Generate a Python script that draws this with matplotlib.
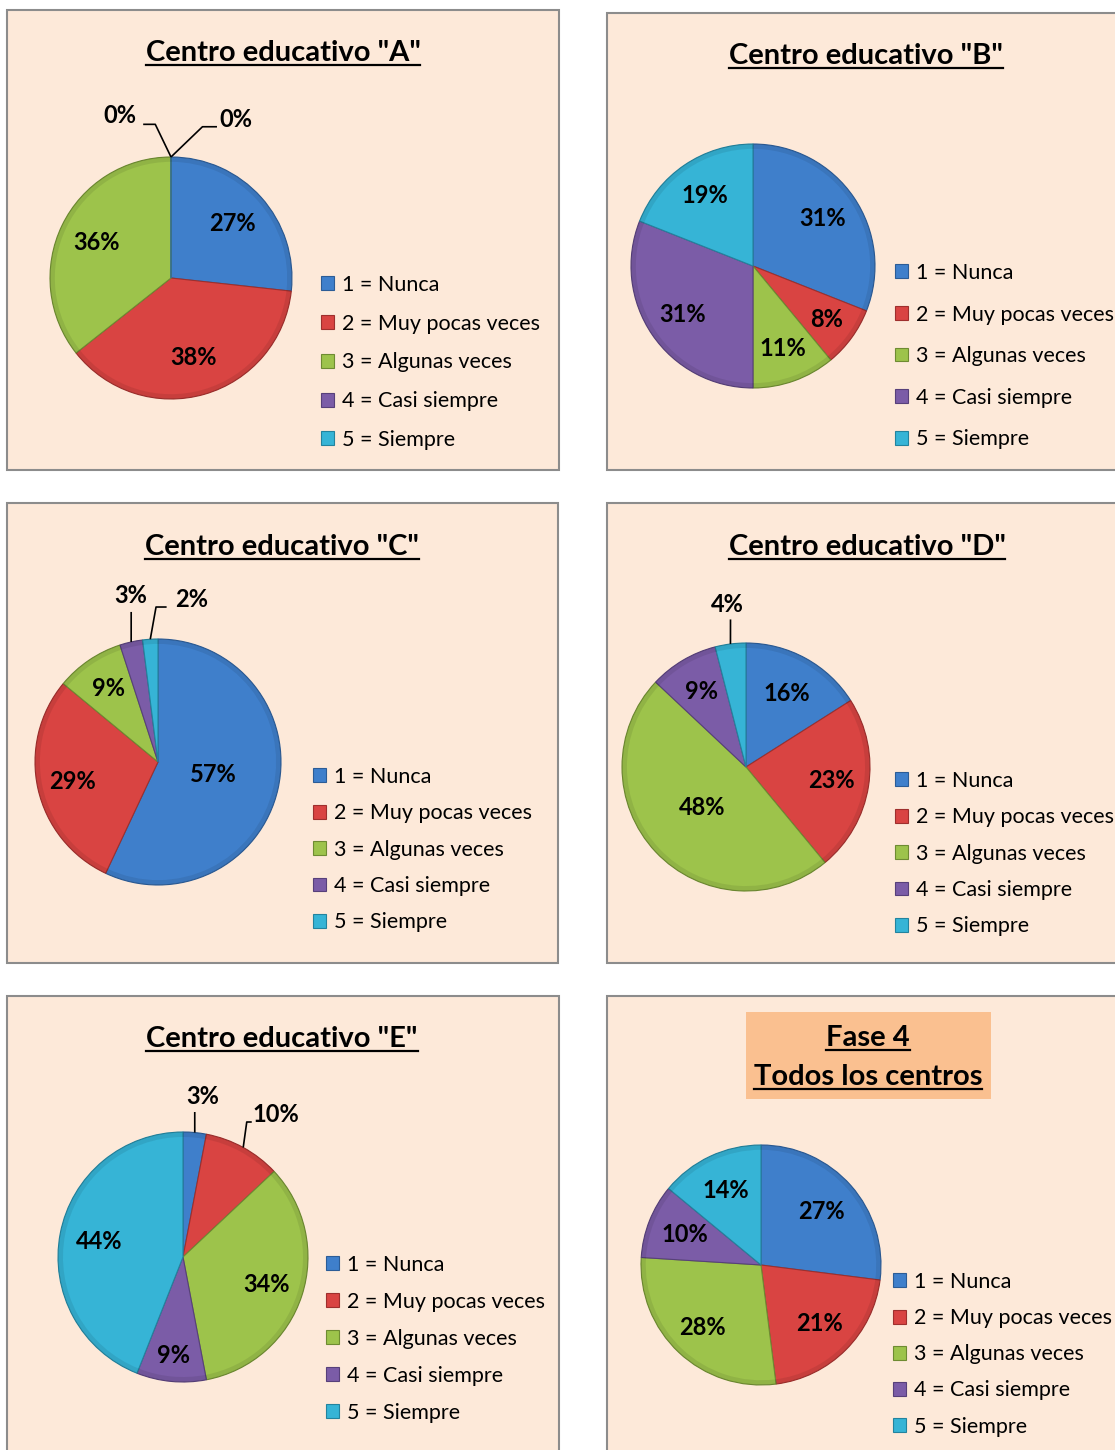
import numpy as np
import matplotlib
matplotlib.use("Agg")
import matplotlib.pyplot as plt
from matplotlib.patches import Rectangle
from matplotlib.lines import Line2D

plt.rcParams['font.family'] = ['Lato', 'DejaVu Sans']

# --- data ---
categorias = ["1 = Nunca", "2 = Muy pocas veces", "3 = Algunas veces",
              "4 = Casi siempre", "5 = Siempre"]
centro_a = [27, 38, 36, 0, 0]
centro_b = [31, 8, 11, 31, 19]
centro_c = [57, 29, 9, 3, 2]
centro_d = [16, 23, 48, 9, 4]
centro_e = [3, 10, 34, 9, 44]
todos = [27, 21, 28, 10, 14]

colores = ["#3F7FCB", "#D94442", "#9DC34B", "#7B5CA7", "#36B4D6"]
bordes = ["#2C5C96", "#9E2F2D", "#6E8B32", "#57407A", "#23839E"]

W, H = 1115, 1450
fig = plt.figure(figsize=(W / 100, H / 100), dpi=100)
fig.patch.set_facecolor("white")


def fx(x):
    return x / W


def fy(y):
    return 1 - y / H


def panel(x0, y0, x1, y1):
    fig.patches.append(Rectangle((fx(x0), fy(y1)), fx(x1 - x0), (y1 - y0) / H,
                                 transform=fig.transFigure, facecolor="#FDE9D9",
                                 edgecolor="#8C8C8C", linewidth=1.5, zorder=-2))


titulos = []


def titulo(texto, x, y, size=21):
    t = fig.text(fx(x), fy(y), texto, ha="center", va="baseline",
                 fontsize=size, fontweight="bold", color="black")
    titulos.append((t, y))


def pie(valores, cx, cy, r, dist, fuera, leg_xy, espacio):
    ax = fig.add_axes([fx(cx - r), fy(cy + r), 2 * r / W, 2 * r / H])
    ax.patch.set_visible(False)
    wedges, _ = ax.pie(valores, colors=colores, startangle=90, counterclock=False,
                       radius=1, wedgeprops=dict(linewidth=0.8))
    for w, e in zip(wedges, bordes):
        w.set_edgecolor(e)
    # leve efecto de bisel en el borde
    ax.pie(valores, colors=["black"] * 5, startangle=90, counterclock=False,
           radius=1, wedgeprops=dict(width=0.04, linewidth=0, alpha=0.08))
    ax.set_xlim(-1, 1)
    ax.set_ylim(-1, 1)
    ax.axis("off")
    for i, (w, v) in enumerate(zip(wedges, valores)):
        if i in fuera:
            continue
        ang = np.deg2rad((w.theta1 + w.theta2) / 2)
        d = dist[i]
        ax.text(d * np.cos(ang), d * np.sin(ang), f"{v}%", ha="center", va="center",
                fontsize=17, fontweight="bold")
    for i, (tx, ty, path) in fuera.items():
        w = wedges[i]
        ang = np.deg2rad((w.theta1 + w.theta2) / 2)
        xs = [np.cos(ang)] + [p[0] for p in path]
        ys = [np.sin(ang)] + [p[1] for p in path]
        ax.plot(xs, ys, color="black", lw=1.2, clip_on=False, solid_capstyle="butt")
        ax.text(tx, ty, f"{valores[i]}%", ha="center", va="center",
                fontsize=17, fontweight="bold", clip_on=False)
    lx, ly = leg_xy
    ax.legend(wedges, categorias, loc="upper left", bbox_to_anchor=(fx(lx), fy(ly)),
              bbox_transform=fig.transFigure, frameon=False, fontsize=15.5,
              handlelength=0.62, handleheight=0.62, handletextpad=0.35,
              labelspacing=espacio, borderpad=0, borderaxespad=0)
    return ax


# panels
panel(7, 10, 559, 470)
panel(607, 13, 1125, 470)
panel(7, 503, 558, 963)
panel(607, 503, 1125, 963)
panel(7, 996, 559, 1460)
panel(607, 996, 1125, 1460)

titulo('Centro educativo "A"', 283, 61)
titulo('Centro educativo "B"', 866, 64)
titulo('Centro educativo "C"', 282, 555)
titulo('Centro educativo "D"', 867, 555)
titulo('Centro educativo "E"', 282, 1047)
fig.patches.append(Rectangle((fx(746), fy(1099)), fx(991 - 746), (1099 - 1012) / H,
                             transform=fig.transFigure, facecolor="#FAC090",
                             edgecolor="none", zorder=-1))
titulo("Fase 4", 868, 1046)
titulo("Todos los centros", 868, 1085)

pie(centro_a, 171, 278, 121, [0.68, 0.68, 0.68, 0.7, 0.7],
    {3: (-0.42, 1.34, [(-0.13, 1.27), (-0.23, 1.27)]),
     4: (0.54, 1.31, [(0.26, 1.25), (0.38, 1.25)])},
    (321, 275), 0.87)
pie(centro_b, 753, 266, 122, [0.69, 0.75, 0.72, 0.70, 0.70], {}, (895, 263), 1.0)
pie(centro_c, 158, 762, 123, [0.46, 0.71, 0.72, 0.7, 0.7],
    {3: (-0.22, 1.35, [(-0.218, 1.22)]),
     4: (0.27, 1.32, [(-0.016, 1.26), (0.07, 1.26)])},
    (313, 767), 0.76)
pie(centro_d, 746, 767, 124, [0.68, 0.70, 0.48, 0.71, 0.7],
    {4: (-0.15, 1.31, [(-0.125, 1.19)])},
    (895, 771), 0.76)
pie(centro_e, 183, 1257, 125, [0.7, 0.7, 0.70, 0.79, 0.68],
    {0: (0.16, 1.28, [(0.094, 1.16)]),
     1: (0.74, 1.14, [(0.51, 1.08), (0.55, 1.08)])},
    (326, 1255), 0.79)
pie(todos, 761, 1265, 120, [0.67, 0.69, 0.71, 0.68, 0.69], {}, (893, 1272), 0.75)

# underline titles
fig.canvas.draw()
rend = fig.canvas.get_renderer()
for t, y in titulos:
    bb = t.get_window_extent(rend)
    yy = fy(y + 4)
    fig.lines.append(Line2D([bb.x0 / W, bb.x1 / W], [yy, yy],
                            transform=fig.transFigure, color="black", lw=1.6, zorder=5))

fig.savefig("out.png", dpi=100, facecolor="white")
